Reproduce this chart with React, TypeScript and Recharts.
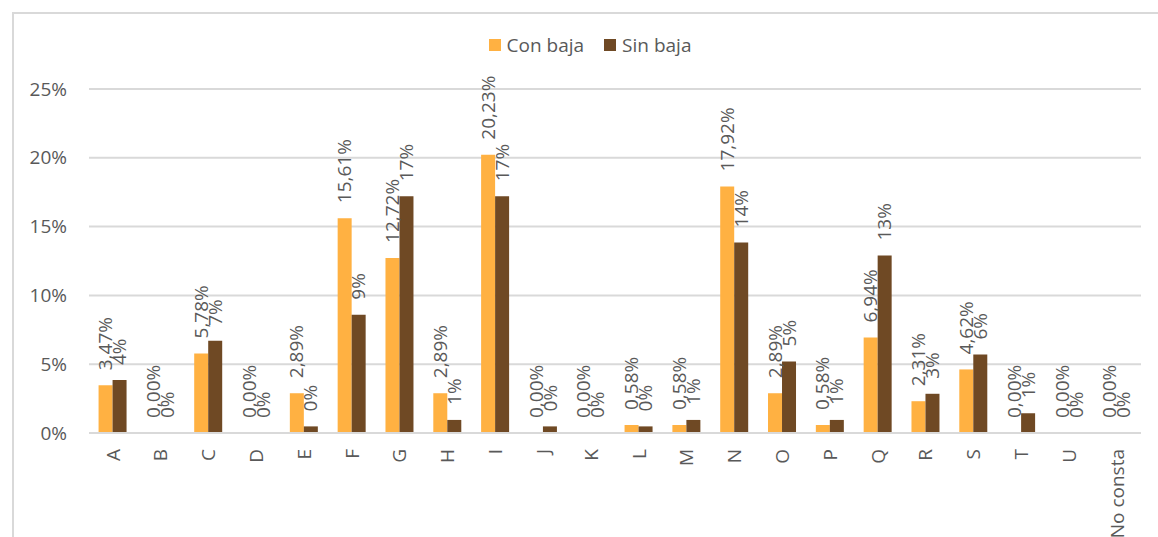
import { BarChart, Bar, CartesianGrid, XAxis, YAxis, LabelList } from "recharts";

const categories = ["A", "B", "C", "D", "E", "F", "G", "H", "I", "J", "K", "L", "M", "N", "O", "P", "Q", "R", "S", "T", "U", "No consta"];
const conBaja = [3.47, 0, 5.78, 0, 2.89, 15.61, 12.72, 2.89, 20.23, 0, 0, 0.58, 0.58, 17.92, 2.89, 0.58, 6.94, 2.31, 4.62, 0, 0, 0];
const sinBaja = [3.85, 0, 6.7, 0, 0.48, 8.6, 17.2, 0.95, 17.2, 0.48, 0, 0.48, 0.95, 13.85, 5.2, 0.95, 12.9, 2.85, 5.7, 1.43, 0, 0];
const yTicks = [0, 5, 10, 15, 20, 25];
const seriesNames = ["Con baja", "Sin baja"];

const data = categories.map((c, i) => ({ name: c, con: conBaja[i], sin: sinBaja[i] }));

const FONT = "'Open Sans', sans-serif";
const TEXT = "#595959";
const ORANGE = "#FFB142";
const BROWN = "#6F4924";
const colors = [ORANGE, BROWN];

const XTick = ({ x, y, payload }: any) => (
  <g transform={`translate(${x},${y + 8})`}>
    <text transform="rotate(-90)" textAnchor="end" dy="0.35em" fill={TEXT} fontSize={19} fontFamily={FONT}>
      {payload.value}
    </text>
  </g>
);

const YTick = ({ x, y, payload }: any) => (
  <text x={x - 14} y={y} dy="0.35em" textAnchor="end" fill={TEXT} fontSize={19} fontFamily={FONT}>
    {`${payload.value}%`}
  </text>
);

const makeLabel = (fmt: (v: number) => string) => (props: any) => {
  const { x, y, width, value } = props;
  return (
    <text
      transform={`translate(${x + width / 2},${y - 15}) rotate(-90)`}
      textAnchor="start"
      dy="0.35em"
      fill={TEXT}
      fontSize={19}
      fontFamily={FONT}
    >
      {fmt(value)}
    </text>
  );
};

const conLabel = makeLabel((v) => v.toFixed(2).replace(".", ",") + "%");
const sinLabel = makeLabel((v) => Math.round(v) + "%");

export default function App() {
  return (
    <div style={{ position: "absolute", left: 0, top: 0, width: 1158, height: 537, overflow: "hidden", background: "#fff" }}>
      <div
        style={{
          position: "absolute",
          left: 12,
          top: 12,
          right: 0,
          bottom: 0,
          borderTop: "2px solid #d9d9d9",
          borderLeft: "2px solid #d9d9d9",
        }}
      />
      <div
        style={{
          position: "absolute",
          left: 0,
          top: 32,
          width: 1180,
          display: "flex",
          justifyContent: "center",
          fontFamily: FONT,
          fontSize: 19,
          color: TEXT,
        }}
      >
        {seriesNames.map((n, i) => (
          <div key={n} style={{ display: "flex", alignItems: "center", margin: "0 10px" }}>
            <span style={{ width: 12, height: 12, background: colors[i], display: "inline-block", marginRight: 6 }} />
            <span>{n}</span>
          </div>
        ))}
      </div>
      <div style={{ position: "absolute", left: 0, top: 0 }}>
        <BarChart
          width={1158}
          height={537}
          data={data}
          margin={{ top: 89, right: 17, bottom: 0, left: 0 }}
          barCategoryGap="20%"
          barGap={0}
        >
          <CartesianGrid vertical={false} stroke="#d9d9d9" strokeWidth={2} />
          <XAxis
            dataKey="name"
            interval={0}
            tick={<XTick />}
            tickLine={false}
            axisLine={{ stroke: "#d9d9d9", strokeWidth: 2 }}
            height={104}
          />
          <YAxis
            width={89}
            domain={[0, 25]}
            ticks={yTicks}
            tick={<YTick />}
            tickLine={false}
            axisLine={false}
          />
          <Bar dataKey="con" name={seriesNames[0]} fill={ORANGE} minPointSize={0.01} isAnimationActive={false}>
            <LabelList dataKey="con" content={conLabel} />
          </Bar>
          <Bar dataKey="sin" name={seriesNames[1]} fill={BROWN} minPointSize={0.01} isAnimationActive={false}>
            <LabelList dataKey="sin" content={sinLabel} />
          </Bar>
        </BarChart>
      </div>
    </div>
  );
}
